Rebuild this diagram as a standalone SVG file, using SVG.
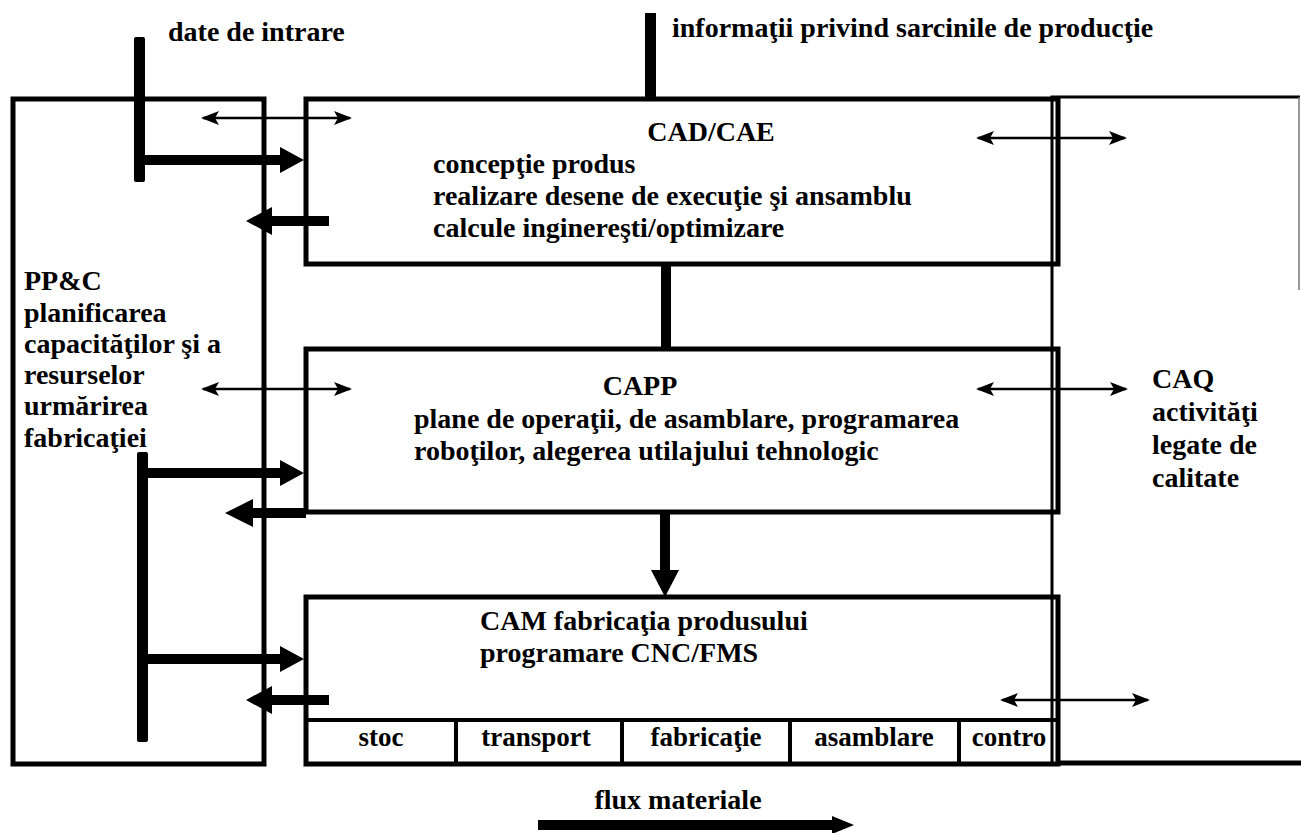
<svg xmlns="http://www.w3.org/2000/svg" width="1301" height="833" viewBox="0 0 1301 833">
  <defs>
    <style>
      .box { fill: none; stroke: #000; stroke-width: 5; }
      .edge { fill: none; stroke: #000; stroke-width: 3; }
      .cell { fill: none; stroke: #000; stroke-width: 4; }
      .bar { fill: #000; }
      .shaft { fill: none; stroke: #000; stroke-width: 10; }
      .head { fill: #000; }
      .thin { fill: none; stroke: #000; stroke-width: 2.5; marker-start: url(#tip); marker-end: url(#tip); }
      .t { font-family: "Liberation Serif", "Times New Roman", serif; font-weight: bold; font-size: 28px; fill: #000; }
      .c { font-size: 27px; text-anchor: middle; }
      .m { text-anchor: middle; }
    </style>
    <marker id="tip" viewBox="0 -8 18 16" refX="16" refY="0" markerWidth="18" markerHeight="16" markerUnits="userSpaceOnUse" orient="auto-start-reverse">
      <path d="M0,-7 L18,0 L0,7 L4,0 z" fill="#000"/>
    </marker>
  </defs>
  <rect width="1301" height="833" fill="#fff"/>

  <!-- PP&C: planning and control -->
  <g id="ppc">
    <rect class="box" x="13" y="99" width="251" height="665"/>
    <text class="t" x="24" y="290">PP&amp;C</text>
    <text class="t" x="24" y="322">planificarea</text>
    <text class="t" x="24" y="353">capacităţilor şi a</text>
    <text class="t" x="24" y="384">resurselor</text>
    <text class="t" x="24" y="415">urmărirea</text>
    <text class="t" x="24" y="447">fabricaţiei</text>
  </g>

  <!-- CAD/CAE -->
  <g id="cad">
    <rect class="box" x="306" y="99" width="752" height="165"/>
    <text class="t m" x="711" y="141">CAD/CAE</text>
    <text class="t" x="433" y="173">concepţie produs</text>
    <text class="t" x="433" y="205">realizare desene de execuţie şi ansamblu</text>
    <text class="t" x="433" y="237">calcule inginereşti/optimizare</text>
  </g>

  <!-- CAPP -->
  <g id="capp">
    <rect class="box" x="306" y="349" width="752" height="163"/>
    <text class="t m" x="640" y="395">CAPP</text>
    <text class="t" x="414" y="428">plane de operaţii, de asamblare, programarea</text>
    <text class="t" x="414" y="460">roboţilor, alegerea utilajului tehnologic</text>
  </g>

  <!-- CAM with the material-flow stations -->
  <g id="cam">
    <rect class="box" x="306" y="597" width="752" height="167"/>
    <line class="cell" x1="306" y1="720" x2="1058" y2="720"/>
    <line class="cell" x1="456" y1="720" x2="456" y2="764"/>
    <line class="cell" x1="622" y1="720" x2="622" y2="764"/>
    <line class="cell" x1="790" y1="720" x2="790" y2="764"/>
    <line class="cell" x1="959" y1="720" x2="959" y2="764"/>
    <text class="t" x="480" y="630">CAM fabricaţia produsului</text>
    <text class="t" x="480" y="662">programare CNC/FMS</text>
    <text class="t c" x="381" y="746">stoc</text>
    <text class="t c" x="536" y="746">transport</text>
    <text class="t c" x="706" y="746">fabricaţie</text>
    <text class="t c" x="874" y="746">asamblare</text>
    <text class="t c" x="1009" y="746">contro</text>
  </g>

  <!-- CAQ: quality -->
  <g id="caq">
    <path class="edge" d="M1052,764 V97 H1300"/>
    <line class="box" x1="1058" y1="763" x2="1301" y2="763"/>
    <line x1="1299" y1="97" x2="1299" y2="290" stroke="#777" stroke-width="1.5"/>
    <text class="t" x="1152" y="388">CAQ</text>
    <text class="t" x="1152" y="421">activităţi</text>
    <text class="t" x="1152" y="454">legate de</text>
    <text class="t" x="1152" y="487">calitate</text>
  </g>

  <!-- input labels -->
  <g id="inputs">
    <text class="t" x="168" y="41">date de intrare</text>
    <text class="t" x="672" y="37">informaţii privind sarcinile de producţie</text>
    <text class="t m" x="678" y="809">flux materiale</text>
  </g>

  <!-- connectors -->
  <g id="connectors">
    <!-- input data bus into CAD -->
    <rect class="bar" x="134" y="37" width="11" height="145" rx="2"/>
    <path class="shaft" d="M145,160 H283"/>
    <polygon class="head" points="280,147 304,160 280,173"/>
    <!-- CAD back to PP&C -->
    <path class="shaft" d="M329,221 H268" stroke-width="11"/>
    <polygon class="head" points="272,207 246,221 272,235"/>
    <!-- production task information into CAD -->
    <rect class="bar" x="645" y="13" width="11" height="86"/>
    <!-- CAD to CAPP -->
    <rect class="bar" x="661" y="264" width="10" height="85"/>
    <!-- second bus into CAPP and CAM -->
    <rect class="bar" x="137" y="452" width="11" height="290" rx="2"/>
    <path class="shaft" d="M148,473 H283"/>
    <polygon class="head" points="280,460 304,473 280,486"/>
    <path class="shaft" d="M148,659 H283"/>
    <polygon class="head" points="280,646 304,659 280,672"/>
    <!-- CAPP back to PP&C -->
    <path class="shaft" d="M306,513 H250" stroke-width="9"/>
    <polygon class="head" points="253,499 225,513 253,527"/>
    <!-- CAPP to CAM -->
    <path class="shaft" d="M665,514 V573" stroke-width="11"/>
    <polygon class="head" points="651,570 665,597 679,570"/>
    <!-- CAM back to PP&C -->
    <path class="shaft" d="M329,700 H268" stroke-width="11"/>
    <polygon class="head" points="272,686 246,700 272,714"/>
    <!-- two-way data exchange -->
    <line class="thin" x1="203" y1="118" x2="350" y2="118"/>
    <line class="thin" x1="978" y1="138" x2="1125" y2="138"/>
    <line class="thin" x1="203" y1="389" x2="350" y2="389"/>
    <line class="thin" x1="978" y1="389" x2="1126" y2="389"/>
    <line class="thin" x1="1002" y1="700" x2="1148" y2="700"/>
    <!-- material flow direction -->
    <path class="shaft" d="M538,825 H836" stroke-width="7"/>
    <polygon class="head" points="832,816 854,825 832,834"/>
  </g>
</svg>
